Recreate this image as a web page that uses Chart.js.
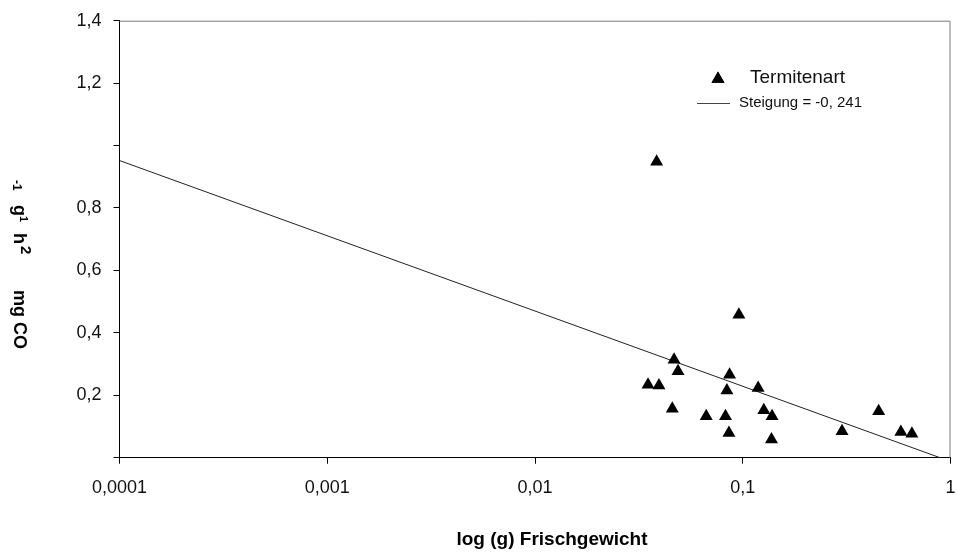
<!DOCTYPE html>
<html>
<head>
<meta charset="utf-8">
<script src="https://cdn.jsdelivr.net/npm/chart.js@4.4.1/dist/chart.umd.min.js"></script>
<style>
  html, body { margin: 0; padding: 0; background: #fff; overflow: hidden; }
  #wrap { position: relative; width: 958px; height: 556px; }
  #myChart { display: block; }
</style>
</head>
<body>
<div id="wrap"><canvas id="myChart"></canvas></div>
<script>
// Fresh weight (g) and respiration per termite species
var weights = [0.0385, 0.0958, 0.0467, 0.0488, 0.0350, 0.0395, 0.0864, 0.0839, 0.1186, 0.0458,
               0.0667, 0.0826, 0.1263, 0.1384, 0.0858, 0.1375, 0.3005, 0.451, 0.577, 0.652];
var rates = [0.948, 0.458, 0.314, 0.277, 0.234, 0.231, 0.266, 0.215, 0.223, 0.157,
             0.133, 0.133, 0.152, 0.133, 0.079, 0.058, 0.085, 0.149, 0.082, 0.077];

// regression line end points (slope -0.241 per decade)
var fitX = [0.0001, 0.89];
var fitY = [0.952, 0.0];

var xTicks = [0.0001, 0.001, 0.01, 0.1, 1];
var xTickLabels = ['0,0001', '0,001', '0,01', '0,1', '1'];
var yHidden = [0, 1];

var seriesLabel = 'Termitenart';
var fitLabel = 'Steigung = -0, 241';
var xTitle = 'log (g) Frischgewicht';

var points = weights.map(function(w, i) { return {x: w, y: rates[i]}; });
var fitPoints = fitX.map(function(v, i) { return {x: v, y: fitY[i]}; });

var tickFont = {family: 'Liberation Sans, Arial, sans-serif', size: 18};

// legend, y title and frame are drawn by hand
var extras = {
    id: 'extras',
    beforeDatasetsDraw: function(chart) {
        var ctx = chart.ctx;
        var a = chart.chartArea;
        ctx.save();
        ctx.strokeStyle = '#7a7a7a';
        ctx.lineWidth = 1;
        ctx.beginPath();
        ctx.moveTo(a.left, a.top + 0.5);
        ctx.lineTo(a.right - 0.5, a.top + 0.5);
        ctx.lineTo(a.right - 0.5, a.bottom);
        ctx.stroke();
        ctx.restore();
    },
    afterDraw: function(chart) {
        var ctx = chart.ctx;
        var ds = chart.data.datasets;
        ctx.save();

        // legend
        ctx.fillStyle = '#000';
        Chart.helpers.drawPoint(ctx, {pointStyle: 'triangle', radius: 7.5, rotation: 0, borderWidth: 0}, 718, 79);
        ctx.fill();
        ctx.font = '19px Liberation Sans, Arial, sans-serif';
        ctx.textBaseline = 'middle';
        ctx.textAlign = 'left';
        ctx.fillStyle = '#111';
        ctx.fillText(ds[0].label, 750, 78);

        ctx.strokeStyle = '#444';
        ctx.lineWidth = 1;
        ctx.beginPath();
        ctx.moveTo(697, 103.5);
        ctx.lineTo(730, 103.5);
        ctx.stroke();
        ctx.font = '15px Liberation Sans, Arial, sans-serif';
        ctx.fillText(ds[1].label, 739, 103);

        // x axis title
        ctx.font = 'bold 19px Liberation Sans, Arial, sans-serif';
        ctx.textAlign = 'center';
        ctx.textBaseline = 'alphabetic';
        ctx.fillStyle = '#000';
        ctx.fillText(xTitle, 552, 545);

        // y axis title, pieces rotated clockwise
        ctx.textAlign = 'left';
        var piece = function(txt, size, x, y) {
            ctx.save();
            ctx.translate(x, y);
            ctx.rotate(Math.PI / 2);
            ctx.font = 'bold ' + size + 'px Liberation Sans, Arial, sans-serif';
            ctx.fillText(txt, 0, 0);
            ctx.restore();
        };
        piece('-1', 12, 13, 180);
        piece('g', 18, 14, 205);
        piece('1', 11, 20, 216);
        piece('h', 18, 14, 233);
        piece('2', 15, 21, 246);
        piece('mg CO', 18, 14, 290);

        ctx.restore();
    }
};

var ctx = document.getElementById('myChart').getContext('2d');
var graphData = {
    type: 'scatter',
    data: {
        datasets: [{
            label: seriesLabel,
            data: points,
            pointStyle: 'triangle',
            pointRadius: 7.5,
            pointHoverRadius: 7.5,
            backgroundColor: '#000',
            borderColor: '#000',
            borderWidth: 0,
            order: 1
        }, {
            label: fitLabel,
            type: 'line',
            data: fitPoints,
            borderColor: '#222',
            borderWidth: 1,
            pointRadius: 0,
            fill: false,
            order: 2
        }]
    },
    options: {
        responsive: true,
        maintainAspectRatio: false,
        animation: false,
        events: [],
        layout: {padding: {left: 0, top: 20.7, right: 6, bottom: 0}},
        plugins: {
            legend: {display: false},
            tooltip: {enabled: false}
        },
        scales: {
            x: {
                type: 'logarithmic',
                min: 0.0001,
                max: 1,
                afterBuildTicks: function(scale) {
                    scale.ticks = xTicks.map(function(v) { return {value: v, major: true}; });
                },
                afterFit: function(scale) {
                    scale.height = 98.3;
                    scale.paddingLeft = 0;
                    scale.paddingRight = 0;
                },
                ticks: {
                    font: tickFont,
                    color: '#111',
                    padding: 14,
                    maxRotation: 0,
                    autoSkip: false,
                    callback: function(v) {
                        var i = xTicks.indexOf(v);
                        return i >= 0 ? xTickLabels[i] : null;
                    }
                },
                grid: {drawOnChartArea: false, drawTicks: true, tickLength: 6, color: '#000'},
                border: {display: true, color: '#000', width: 1}
            },
            y: {
                min: 0,
                max: 1.4,
                afterFit: function(scale) {
                    scale.width = 119.5;
                    scale.paddingTop = 0;
                    scale.paddingBottom = 0;
                },
                ticks: {
                    stepSize: 0.2,
                    font: tickFont,
                    color: '#111',
                    padding: 12,
                    callback: function(v) {
                        var r = Math.round(v * 10) / 10;
                        if (yHidden.indexOf(r) >= 0) return '';
                        return r.toFixed(1).replace('.', ',');
                    }
                },
                grid: {drawOnChartArea: false, drawTicks: true, tickLength: 6, color: '#000'},
                border: {display: true, color: '#000', width: 1}
            }
        }
    },
    plugins: [extras]
};

var myChart = new Chart(ctx, graphData);
</script>
</body>
</html>
